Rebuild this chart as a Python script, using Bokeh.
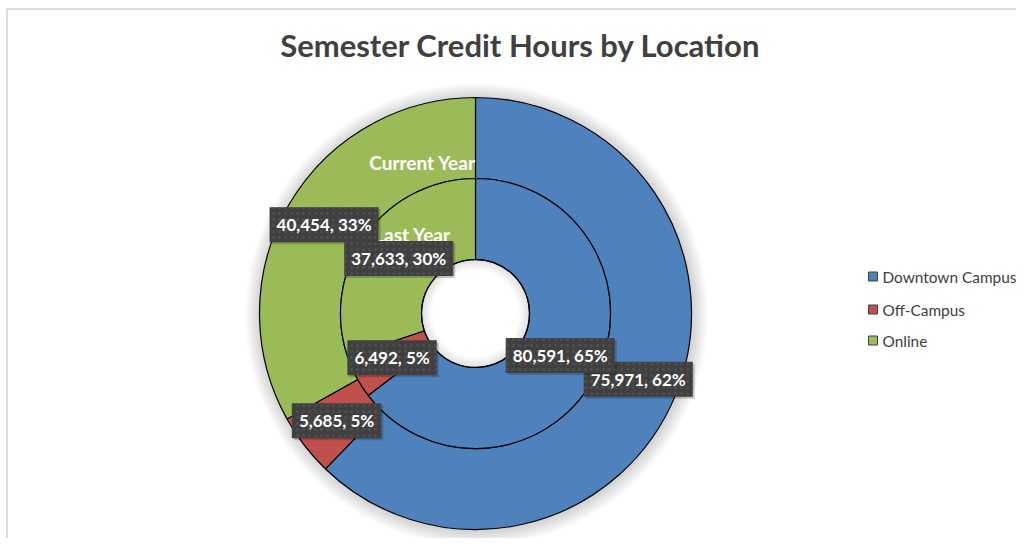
import numpy as np
from bokeh.plotting import figure
from bokeh.models import Range1d, ColumnDataSource
from bokeh.core.properties import value
from bokeh.embed import file_html
from bokeh.resources import INLINE

# ---- data ----
categories = ["Downtown Campus", "Off-Campus", "Online"]
current_year = [75971, 5685, 40454]
last_year = [80591, 6492, 37633]
series_names = ["Current Year", "Last Year"]
colors = ["#4F81BD", "#C0504D", "#9BBB59"]
title_text = "Semester Credit Hours by Location"

W, H = 1016, 538
p = figure(width=W, height=H, x_range=Range1d(0, W), y_range=Range1d(0, H),
           output_backend="svg", toolbar_location=None,
           x_axis_location=None, y_axis_location=None, min_border=0)
p.grid.visible = False
p.outline_line_color = None
p.background_fill_color = "white"
p.border_fill_color = "white"

FONT = "Lato"

# chart frame (top and left edges visible)
p.line([6.5, 6.5], [0, H - 8.5], line_color="#D0D0D0", line_width=1.5)
p.line([6.5, W], [H - 8.5, H - 8.5], line_color="#D0D0D0", line_width=1.5)

# title
p.text(x=[520], y=[H - 44], text=[title_text], text_font=value(FONT),
       text_font_style="bold", text_font_size="31px", text_color="#404040",
       text_align="center", text_baseline="middle")

cx, cy = 475, H - 313
r_hole, r_mid, r_out = 54, 135, 216

# soft outer shadow
for k in range(1, 12):
    p.circle(x=[cx + 1], y=[cy - 1], radius=r_out + k * 1.4, fill_color="#000000",
             fill_alpha=0.014, line_color=None)
p.circle(x=[cx], y=[cy], radius=r_out, fill_color="white", line_color=None)


def ring(vals, r0, r1):
    vals = np.array(vals, dtype=float)
    fr = vals / vals.sum()
    cum = np.concatenate([[0.0], np.cumsum(fr)])
    start = np.pi / 2 - 2 * np.pi * cum[1:]
    end = np.pi / 2 - 2 * np.pi * cum[:-1]
    mid = (cum[1:] + cum[:-1]) / 2
    rm = (r0 + r1) / 2
    src = ColumnDataSource(dict(
        start=start, end=end, color=colors, cat=categories,
        lx=cx + rm * np.sin(2 * np.pi * mid),
        ly=cy + rm * np.cos(2 * np.pi * mid),
        label=[f"{int(v):,}, {round(f * 100):.0f}%" for v, f in zip(vals, fr)],
    ))
    p.annular_wedge(x=cx, y=cy, inner_radius=r0, outer_radius=r1,
                    start_angle="start", end_angle="end", fill_color="color",
                    line_color="black", line_width=1.2, source=src)
    return src


src_cur = ring(current_year, r_mid, r_out)
src_last = ring(last_year, r_hole, r_mid)

# inner shadow of the hole
for k in range(1, 9):
    p.annulus(x=[cx], y=[cy], inner_radius=r_hole - k * 1.3, outer_radius=r_hole,
              fill_color="#000000", fill_alpha=0.015, line_color=None)
p.circle(x=[cx], y=[cy], radius=r_hole, fill_color=None, line_color="black",
         line_width=1.2)

# series names
p.text(x=[cx - 53, cx - 63], y=[cy + 151, cy + 79], text=series_names,
       text_font=value(FONT), text_font_style="bold", text_font_size="19px",
       text_color="white", text_align="center", text_baseline="middle")

# data labels
for src in (src_cur, src_last):
    # shadow
    p.text(x="lx", y="ly", text="label", source=src, x_offset=2, y_offset=2,
           text_font=value(FONT), text_font_style="bold", text_font_size="17px",
           text_color=None, text_align="center", text_baseline="middle",
           background_fill_color="#000000", background_fill_alpha=0.2,
           padding=(7, 7))
    p.text(x="lx", y="ly", text="label", source=src,
           text_font=value(FONT), text_font_style="bold", text_font_size="17px",
           text_color="white", text_align="center", text_baseline="middle",
           background_fill_color="#404040", background_hatch_pattern="dot",
           background_hatch_color="#4E4E4E", background_hatch_scale=6,
           padding=(7, 7))

# legend
leg_y = [H - 276, H - 309, H - 340]
p.rect(x=[872.5] * 3, y=leg_y, width=9, height=9, fill_color=colors,
       line_color="#404040", line_width=1)
p.text(x=[882] * 3, y=leg_y, text=categories, text_font=value(FONT),
       text_font_size="15.4px", text_color="#404040", text_align="left",
       text_baseline="middle")

open("out.html", "w").write(file_html(p, INLINE))
